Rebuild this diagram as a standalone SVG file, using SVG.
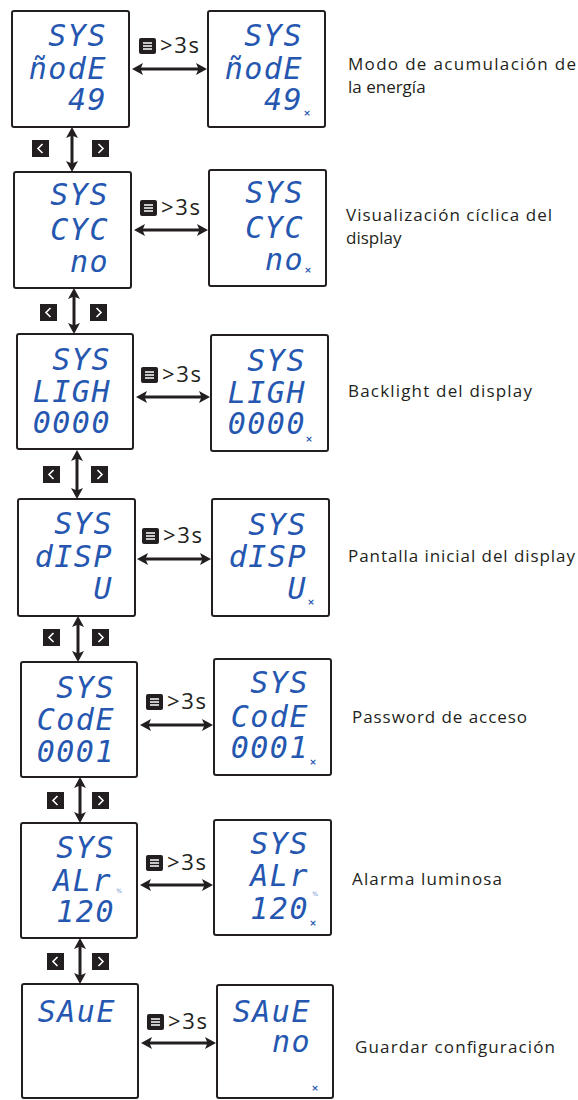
<svg xmlns="http://www.w3.org/2000/svg" width="578" height="1100" viewBox="0 0 578 1100">
<style>
.box{fill:#fff;stroke:#231f20;stroke-width:2}
.seg{font-family:"DejaVu Sans Mono",monospace;font-size:30px;letter-spacing:1.5px;font-style:oblique;fill:#2557b0;text-anchor:end}
.mk{font-family:"DejaVu Sans",sans-serif;font-size:9px;font-weight:bold;fill:#2557b0;text-anchor:middle}
.pc{font-family:"DejaVu Sans",sans-serif;font-size:6px;fill:#6f8fd0;text-anchor:middle}
.lbl{font-family:"Open Sans",Lato,sans-serif;font-size:17px;fill:#231f20}
.t3s{font-family:"Open Sans",Lato,sans-serif;font-size:22px;fill:#231f20}
.arr{stroke:#231f20;stroke-width:3;fill:none;marker-start:url(#ah);marker-end:url(#ah)}
.btn{fill:#231f20}
.wl{stroke:#fff;stroke-width:1.6;fill:none}
</style>
<defs>
<marker id="ah" viewBox="0 0 11 12" markerWidth="11" markerHeight="12" refX="3" refY="6" orient="auto-start-reverse" markerUnits="userSpaceOnUse">
<path d="M0,0 L11,6 L0,12 L2.5,6 z" fill="#231f20"/>
</marker>
<g id="menu"><rect width="17" height="16" rx="2" class="btn"/><path class="wl" d="M4,5H13M4,8H13M4,11H13"/></g>
<g id="prev"><rect width="17" height="17" class="btn"/><path class="wl" d="M10.5,4L6,8.5L10.5,13"/></g>
<g id="next"><rect width="17" height="17" class="btn"/><path class="wl" d="M6.5,4L11,8.5L6.5,13"/></g>
</defs>

<g id="connectors">
<line class="arr" x1="140" y1="69" x2="199" y2="69"/>
<line class="arr" x1="142" y1="230" x2="200" y2="230"/>
<line class="arr" x1="144" y1="397" x2="202" y2="397"/>
<line class="arr" x1="145" y1="559" x2="203" y2="559"/>
<line class="arr" x1="148" y1="725" x2="205" y2="725"/>
<line class="arr" x1="148" y1="885" x2="205" y2="885"/>
<line class="arr" x1="149" y1="1043" x2="208" y2="1043"/>
<line class="arr" x1="72" y1="135" x2="72" y2="164"/>
<line class="arr" x1="74" y1="296" x2="74" y2="326"/>
<line class="arr" x1="77" y1="458" x2="77" y2="491"/>
<line class="arr" x1="78" y1="624" x2="78" y2="654"/>
<line class="arr" x1="80" y1="785" x2="80" y2="815"/>
<line class="arr" x1="80" y1="946" x2="80" y2="976"/>
<g id="menu-labels">
<use href="#menu" x="139" y="38"/><text class="t3s" x="160" y="53" textLength="39">&gt;3s</text>
<use href="#menu" x="140" y="200"/><text class="t3s" x="161" y="215" textLength="39">&gt;3s</text>
<use href="#menu" x="141" y="367"/><text class="t3s" x="162" y="382" textLength="39">&gt;3s</text>
<use href="#menu" x="142" y="528"/><text class="t3s" x="163" y="543" textLength="39">&gt;3s</text>
<use href="#menu" x="146" y="694"/><text class="t3s" x="167" y="709" textLength="39">&gt;3s</text>
<use href="#menu" x="146" y="855"/><text class="t3s" x="167" y="870" textLength="39">&gt;3s</text>
<use href="#menu" x="147" y="1014"/><text class="t3s" x="168" y="1029" textLength="39">&gt;3s</text>
</g>
<g id="nav-buttons">
<use href="#prev" x="32" y="140"/><use href="#next" x="92" y="140"/>
<use href="#prev" x="40" y="304"/><use href="#next" x="90" y="304"/>
<use href="#prev" x="43" y="466"/><use href="#next" x="91" y="466"/>
<use href="#prev" x="43" y="629"/><use href="#next" x="92" y="629"/>
<use href="#prev" x="47" y="792"/><use href="#next" x="92" y="792"/>
<use href="#prev" x="47" y="953"/><use href="#next" x="92" y="953"/>
</g>
</g>

<g id="mode-left"><rect class="box" x="12" y="11" width="117" height="116" rx="2"/>
<text class="seg" x="107" y="46">SYS</text><text class="seg" x="107" y="79">ñodE</text><text class="seg" x="107" y="110">49</text></g>
<g id="mode-right"><rect class="box" x="208" y="11" width="117" height="116" rx="2"/>
<text class="seg" x="303" y="46">SYS</text><text class="seg" x="303" y="79">ñodE</text><text class="seg" x="303" y="110">49</text><text class="mk" x="307" y="116">×</text></g>
<g id="mode-label"><text class="lbl" x="348" y="70" textLength="228">Modo de acumulación de</text><text class="lbl" x="348" y="93">la energía</text></g>

<g id="cyc-left"><rect class="box" x="14" y="172" width="117" height="116" rx="2"/>
<text class="seg" x="109" y="205">SYS</text><text class="seg" x="109" y="240">CYC</text><text class="seg" x="109" y="272">no</text></g>
<g id="cyc-right"><rect class="box" x="209" y="170" width="117" height="116" rx="2"/>
<text class="seg" x="304" y="203">SYS</text><text class="seg" x="304" y="238">CYC</text><text class="seg" x="304" y="270">no</text><text class="mk" x="308" y="273">×</text></g>
<g id="cyc-label"><text class="lbl" x="346" y="221" textLength="206">Visualización cíclica del</text><text class="lbl" x="346" y="244">display</text></g>

<g id="ligh-left"><rect class="box" x="17" y="334" width="116" height="115" rx="2"/>
<text class="seg" x="111" y="370">SYS</text><text class="seg" x="111" y="402">LIGH</text><text class="seg" x="111" y="433">0000</text></g>
<g id="ligh-right"><rect class="box" x="211" y="335" width="117" height="116" rx="2"/>
<text class="seg" x="306" y="371">SYS</text><text class="seg" x="306" y="403">LIGH</text><text class="seg" x="306" y="434">0000</text><text class="mk" x="309" y="442">×</text></g>
<g id="ligh-label"><text class="lbl" x="348" y="397" textLength="184">Backlight del display</text></g>

<g id="disp-left"><rect class="box" x="18" y="499" width="117" height="117" rx="2"/>
<text class="seg" x="113" y="534">SYS</text><text class="seg" x="113" y="567">dISP</text><text class="seg" x="113" y="599">U</text></g>
<g id="disp-right"><rect class="box" x="212" y="499" width="117" height="117" rx="2"/>
<text class="seg" x="307" y="535">SYS</text><text class="seg" x="307" y="567">dISP</text><text class="seg" x="307" y="599">U</text><text class="mk" x="311" y="605">×</text></g>
<g id="disp-label"><text class="lbl" x="348" y="562" textLength="227">Pantalla inicial del display</text></g>

<g id="code-left"><rect class="box" x="21" y="662" width="116" height="115" rx="2"/>
<text class="seg" x="115" y="698">SYS</text><text class="seg" x="115" y="730">CodE</text><text class="seg" x="115" y="762">0001</text></g>
<g id="code-right"><rect class="box" x="214" y="659" width="117" height="116" rx="2"/>
<text class="seg" x="309" y="693">SYS</text><text class="seg" x="309" y="727">CodE</text><text class="seg" x="309" y="758">0001</text><text class="mk" x="313" y="765">×</text></g>
<g id="code-label"><text class="lbl" x="352" y="723" textLength="175">Password de acceso</text></g>

<g id="alr-left"><rect class="box" x="21" y="823" width="116" height="115" rx="2"/>
<text class="seg" x="115" y="858">SYS</text><text class="seg" x="112" y="891">ALr</text><text class="pc" x="119" y="893">%</text><text class="seg" x="115" y="922">120</text></g>
<g id="alr-right"><rect class="box" x="214" y="820" width="117" height="115" rx="2"/>
<text class="seg" x="309" y="854">SYS</text><text class="seg" x="309" y="886">ALr</text><text class="pc" x="315" y="896">%</text><text class="seg" x="309" y="919">120</text><text class="mk" x="313" y="926">×</text></g>
<g id="alr-label"><text class="lbl" x="352" y="885" textLength="150">Alarma luminosa</text></g>

<g id="save-left"><rect class="box" x="22" y="984" width="116" height="114" rx="2"/>
<text class="seg" x="116" y="1022">SAuE</text></g>
<g id="save-right"><rect class="box" x="217" y="985" width="116" height="113" rx="2"/>
<text class="seg" x="311" y="1022">SAuE</text><text class="seg" x="311" y="1052">no</text><text class="mk" x="315" y="1091">×</text></g>
<g id="save-label"><text class="lbl" x="355" y="1053" textLength="200">Guardar configuración</text></g>
</svg>
